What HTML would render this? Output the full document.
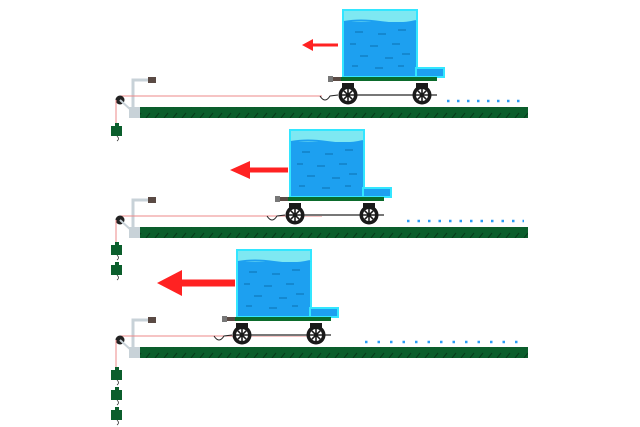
<!DOCTYPE html>
<html><head><style>body{margin:0;background:#fff}svg{display:block}</style></head><body>
<svg width="640" height="427" viewBox="0 0 640 427" xmlns="http://www.w3.org/2000/svg">
<defs>
<pattern id="hatch" width="9" height="11" patternUnits="userSpaceOnUse">
<rect width="9" height="11" fill="#0b5e2c"/>
<path d="M2 8 L6 3" stroke="#063d1c" stroke-width="1.2"/>
</pattern>
<g id="wheel">
<circle r="9.5" fill="#1a1a1a"/><circle r="6" fill="#fff"/>
<path d="M-6 0H6M0-6V6M-4.3-4.3L4.3 4.3M-4.3 4.3L4.3-4.3" stroke="#1a1a1a" stroke-width="1.6"/>
<circle r="2.2" fill="#1a1a1a"/>
<rect x="-6" y="-12" width="12" height="6" fill="#1a1a1a"/>
</g>
<g id="cart">
<rect x="343" y="10" width="74" height="67" fill="#1da0f0" stroke="#33e6ff" stroke-width="2"/>
<rect x="344" y="11" width="72" height="11" fill="#7ee8f2"/>
<path d="M344 22 Q360 19 380 22 T416 21" stroke="#1da0f0" stroke-width="2" fill="none"/>
<g stroke="#0b6fb0" stroke-width="1">
<path d="M355 32h8M378 34h8M398 30h8M350 44h6M370 46h8M392 44h8M360 56h8M385 58h8M402 54h8M352 66h6M375 68h8M398 66h6"/>
</g>
<rect x="416" y="68" width="28" height="9" fill="#1da0f0" stroke="#33e6ff" stroke-width="2"/>
<rect x="330" y="77" width="107" height="4" fill="#0b6b2c"/>
<rect x="328" y="76" width="5" height="6" fill="#777"/><rect x="333" y="77" width="8" height="4" fill="#5a4a44"/>
<line x1="348" y1="95" x2="437" y2="95" stroke="#777" stroke-width="2"/>
<use href="#wheel" x="348" y="95"/><use href="#wheel" x="422" y="95"/>
<path d="M320 96 Q325 104 330 96 L338 95" stroke="#222" stroke-width="1" fill="none"/>
</g>
<g id="base">
<rect x="140" y="107" width="388" height="11" fill="url(#hatch)"/>
<rect x="129" y="107" width="11" height="11" fill="#c8d2d8"/>
<path d="M133 108 V80 H148" stroke="#c8d2d8" stroke-width="3" fill="none"/>
<rect x="148" y="77" width="8" height="6" fill="#5a4a44"/>
<line x1="120" y1="96" x2="322" y2="96" stroke="#e88" stroke-width="1"/>
<circle cx="120" cy="100" r="4.5" fill="#222"/>
<path d="M120 100 L131 110" stroke="#c8d2d8" stroke-width="2"/>
</g>
<g id="wt"><rect x="111" y="0" width="11" height="10" fill="#0b5e2c"/><rect x="115" y="-3" width="4" height="3" fill="#0b5e2c"/><path d="M117 10 q3 3 0 5" stroke="#333" fill="none" stroke-width="0.8"/></g>
</defs>

<use href="#base"/>
<line x1="116" y1="100" x2="116" y2="126" stroke="#e88"/>
<use href="#wt" y="126"/>
<use href="#cart"/>
<path d="M338 45 H312" stroke="#f22" stroke-width="3"/><path d="M302 45 L313 39 L313 51Z" fill="#f22"/>
<line x1="447" y1="101" x2="524" y2="101" stroke="#2a9df4" stroke-width="2.5" stroke-dasharray="2.5 7.5"/>

<use href="#base" y="120"/>
<line x1="116" y1="220" x2="116" y2="246" stroke="#e88"/>
<use href="#wt" y="245"/><use href="#wt" y="265"/>
<use href="#cart" x="-53" y="120"/>
<path d="M288 170 H248" stroke="#f22" stroke-width="5"/><path d="M230 170 L250 161 L250 179Z" fill="#f22"/>
<line x1="407" y1="221" x2="524" y2="221" stroke="#2a9df4" stroke-width="2.5" stroke-dasharray="2.5 8"/>

<use href="#base" y="240"/>
<line x1="116" y1="340" x2="116" y2="370" stroke="#e88"/>
<use href="#wt" y="370"/><use href="#wt" y="390"/><use href="#wt" y="410"/>
<use href="#cart" x="-106" y="240"/>
<path d="M235 283 H180" stroke="#f22" stroke-width="7"/><path d="M157 283 L182 270 L182 296Z" fill="#f22"/>
<line x1="365" y1="342" x2="524" y2="342" stroke="#2a9df4" stroke-width="2.5" stroke-dasharray="2.5 10"/>
</svg>
</body></html>
